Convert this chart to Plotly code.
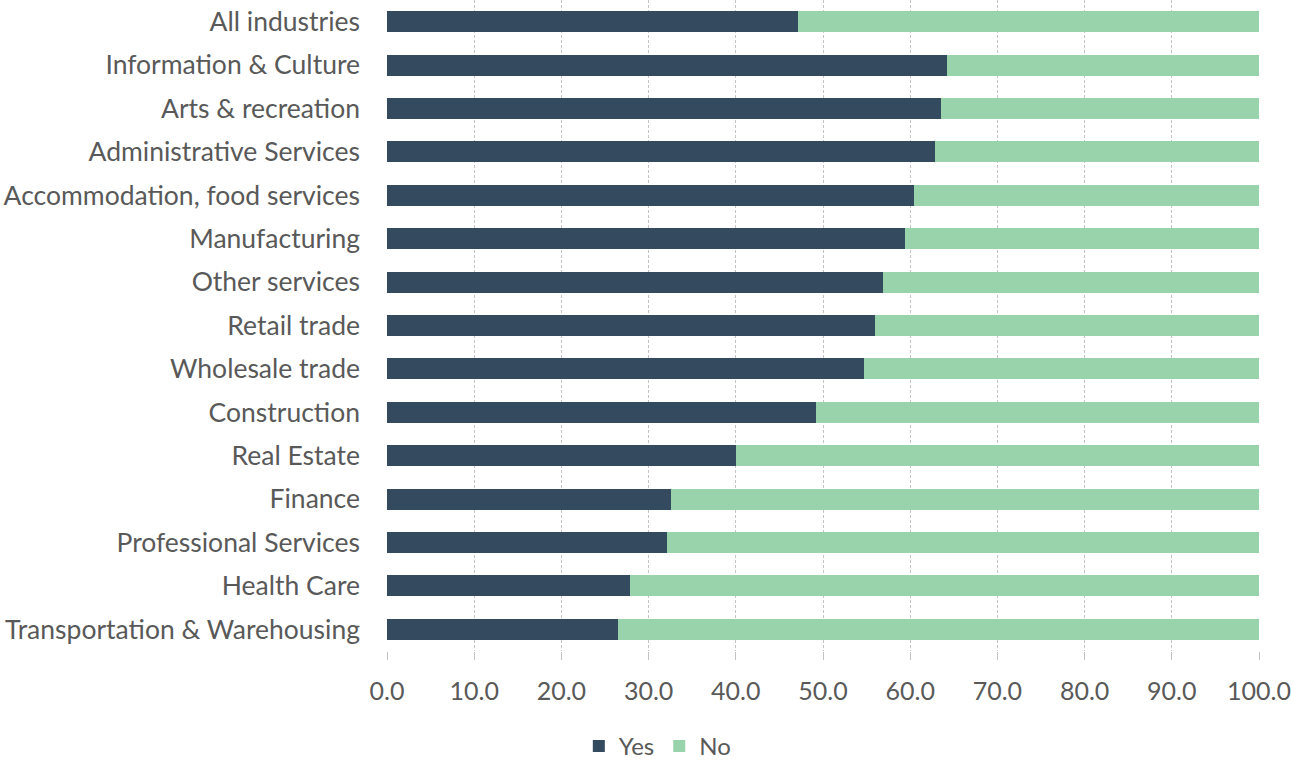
import plotly.graph_objects as go

# Share of firms answering Yes / No, by industry (percent)
industries = [
    "All industries",
    "Information & Culture",
    "Arts & recreation",
    "Administrative Services",
    "Accommodation, food services",
    "Manufacturing",
    "Other services",
    "Retail trade",
    "Wholesale trade",
    "Construction",
    "Real Estate",
    "Finance",
    "Professional Services",
    "Health Care",
    "Transportation & Warehousing",
]
yes_pct = [47.1, 64.2, 63.5, 62.8, 60.4, 59.4, 56.9, 56.0, 54.7, 49.2,
           40.0, 32.6, 32.1, 27.9, 26.5]
no_pct = [round(100 - v, 1) for v in yes_pct]

x_ticks = [0, 10, 20, 30, 40, 50, 60, 70, 80, 90, 100]

YES_COLOR = "#344A5F"
NO_COLOR = "#98D3AB"
TEXT_COLOR = "#595959"
GRID_COLOR = "#C4C4C4"
FONT = "Lato, Open Sans, sans-serif"

fig = go.Figure()
fig.add_trace(go.Bar(
    y=industries, x=yes_pct, name="Yes", orientation="h",
    marker=dict(color=YES_COLOR, line=dict(width=0)),
))
fig.add_trace(go.Bar(
    y=industries, x=no_pct, name="No", orientation="h",
    marker=dict(color=NO_COLOR, line=dict(width=0)),
))

fig.update_layout(
    barmode="stack",
    bargap=0.52,
    width=1293,
    height=763,
    margin=dict(l=387, r=34, t=0, b=112, autoexpand=False),
    plot_bgcolor="white",
    paper_bgcolor="white",
    font=dict(family=FONT, size=25, color=TEXT_COLOR),
    legend=dict(
        orientation="h",
        x=0.31, xref="paper", xanchor="center",
        y=-0.112, yanchor="top",
        font=dict(size=24, color=TEXT_COLOR),
        itemwidth=30,
        traceorder="normal",
    ),
    xaxis=dict(
        range=[0, 100],
        tickvals=x_ticks,
        tickformat=".1f",
        showgrid=True,
        gridcolor=GRID_COLOR,
        griddash="3px,2px",
        gridwidth=1,
        zeroline=False,
        showline=False,
        ticks="outside",
        ticklen=8,
        tickcolor=GRID_COLOR,
        tickfont=dict(size=25, color=TEXT_COLOR),
        ticklabelstandoff=10,
        automargin=False,
    ),
    yaxis=dict(
        autorange="reversed",
        showgrid=False,
        showline=False,
        ticks="",
        tickfont=dict(size=26.5, color=TEXT_COLOR),
        ticklabelstandoff=26,
        automargin=False,
    ),
)

fig.write_html("out.html")
